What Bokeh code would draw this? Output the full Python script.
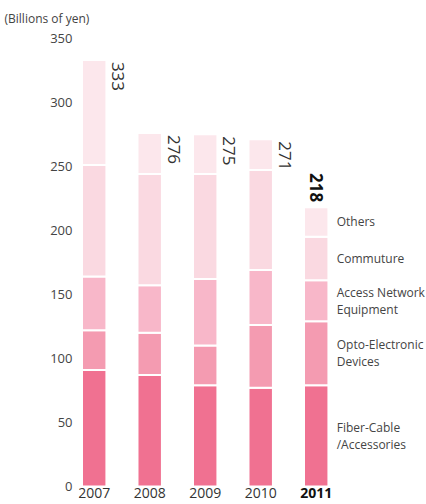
from bokeh.plotting import figure
from bokeh.models import FixedTicker, Range1d, ColumnDataSource, Title
from bokeh.core.properties import value
from bokeh.embed import file_html
from bokeh.resources import INLINE
import math

years = ["2007", "2008", "2009", "2010", "2011"]
fiber = [91, 87, 79, 77, 79]
opto = [31, 33, 31, 49, 50]
access = [42, 37, 52, 43, 32]
commuture = [87, 87, 82, 78, 34]
others = [82, 32, 31, 24, 23]
totals = [333, 276, 275, 271, 218]
segment_names = ["Fiber-Cable\n/Accessories", "Opto-Electronic\nDevices",
                 "Access Network\nEquipment", "Commuture", "Others"]
colors = ["#F07191", "#F49BB1", "#F8B7C9", "#FAD9E1", "#FCE7EC"]
y_ticks = [0, 50, 100, 150, 200, 250, 300, 350]

FONT = "Open Sans"
xs = list(range(len(years)))

p = figure(width=426, height=504, output_backend="svg", toolbar_location=None,
           x_range=Range1d(-0.283, 5.987), y_range=Range1d(-14.05, 357.5),
           min_border_left=78, min_border_right=0, min_border_top=28, min_border_bottom=0)
p.outline_line_color = None
p.xgrid.visible = False
p.ygrid.visible = False
p.xaxis.visible = False

p.add_layout(Title(text="(Billions of yen)", align="left", offset=-74, standoff=3,
                   text_font=FONT, text_font_size="12px", text_font_style="normal",
                   text_color="#444444"), "above")

src = ColumnDataSource(dict(x=xs, fiber=fiber, opto=opto, access=access,
                            commuture=commuture, others=others))
p.vbar_stack(["fiber", "opto", "access", "commuture", "others"], x="x", width=0.44,
             color=colors, line_color="white", line_width=2, source=src)

ya = p.yaxis[0]
ya.ticker = FixedTicker(ticks=y_ticks)
ya.axis_line_color = None
ya.major_tick_line_color = None
ya.minor_tick_line_color = None
ya.major_tick_out = 0
ya.major_label_standoff = 6
ya.major_label_text_font = FONT
ya.major_label_text_font_size = "13px"
ya.major_label_text_color = "#444444"

# year labels
p.text(x=xs[:-1], y=[0] * (len(xs) - 1), text=years[:-1], text_align="center",
       text_baseline="top", y_offset=1, text_font=value(FONT), text_font_size="14px",
       text_color="#333333")
p.text(x=[xs[-1]], y=[0], text=[years[-1]], text_align="center", text_baseline="top",
       y_offset=1, text_font=value(FONT), text_font_size="14px", text_color="#111111",
       text_font_style="bold")

# total labels (rotated)
p.text(x=xs[:-1], y=totals[:-1], text=[str(t) for t in totals[:-1]], angle=-math.pi / 2,
       text_align="left", text_baseline="middle", x_offset=24, y_offset=2,
       text_font=value(FONT), text_font_size="17px", text_color="#333333")
p.text(x=[xs[-1]], y=[totals[-1]], text=[str(totals[-1])], angle=-math.pi / 2,
       text_align="right", text_baseline="middle", x_offset=0, y_offset=-5,
       text_font=value(FONT), text_font_size="17px", text_color="#111111",
       text_font_style="bold")

# segment labels beside the 2011 bar
last = [fiber[-1], opto[-1], access[-1], commuture[-1], others[-1]]
centers = []
acc = 0
for v in last:
    centers.append(acc + v / 2)
    acc += v
p.text(x=[xs[-1]] * len(last), y=centers, text=segment_names, text_align="left",
       text_baseline="middle", x_offset=20.5, text_font=value(FONT),
       text_font_size="12px", text_color="#444444", text_line_height=1.0)

open("out.html", "w").write(file_html(p, INLINE))
